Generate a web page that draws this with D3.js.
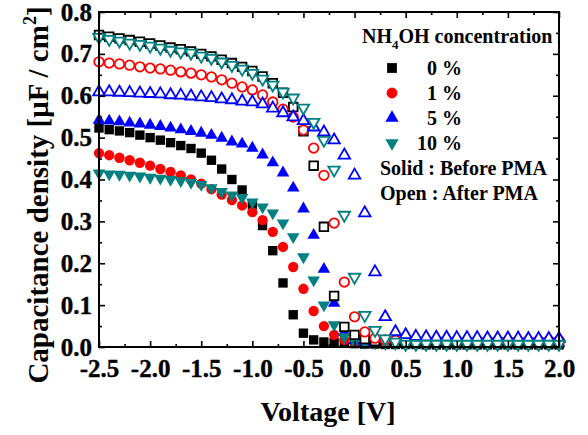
<!DOCTYPE html>
<html>
<head>
<meta charset="utf-8">
<script src="https://cdn.jsdelivr.net/npm/d3@7/dist/d3.min.js"></script>
<style>
  html, body { margin: 0; padding: 0; background: #fff; }
  svg text { font-family: "Liberation Serif", "Times New Roman", serif; font-weight: bold; }
</style>
</head>
<body>
<div id="main-vis"></div>
<script>
// voltage sweep (V), one point every 0.1 V
const voltage = [-2.5,-2.4,-2.3,-2.2,-2.1,-2.0,-1.9,-1.8,-1.7,-1.6,
  -1.5,-1.4,-1.3,-1.2,-1.1,-1.0,-0.9,-0.8,-0.7,-0.6,
  -0.5,-0.4,-0.3,-0.2,-0.1,0.0,0.1,0.2,0.3,0.4,
  0.5,0.6,0.7,0.8,0.9,1.0,1.1,1.2,1.3,1.4,
  1.5,1.6,1.7,1.8,1.9,2.0]

// solid : before PMA
const before0 = [.523,.519,.516,.512,.506,.500,.494,.488,.481,.474,
  .463,.446,.425,.400,.375,.340,.290,.230,.153,.077,
  .033,.017,.012,.010,.009,.008,.007,.007,.006,.006,
  .006,.006,.005,.005,.005,.005,.005,.005,.005,.005,
  .005,.005,.005,.005,.005,.005]
const before1 = [.463,.458,.452,.446,.440,.433,.425,.418,.410,.400,
  .390,.377,.364,.351,.338,.322,.303,.275,.239,.191,
  .139,.086,.050,.029,.017,.012,.010,.009,.009,.009,
  .008,.008,.008,.008,.008,.008,.008,.008,.008,.008,
  .008,.008,.008,.008,.008,.008]
const before5 = [.542,.540,.538,.535,.533,.530,.527,.523,.519,.515,
  .511,.506,.499,.490,.485,.475,.459,.440,.416,.380,
  .330,.267,.186,.105,.035,.015,.011,.010,.010,.009,
  .009,.009,.009,.009,.009,.009,.009,.009,.009,.009,
  .009,.009,.009,.009,.009,.009]
const before10 = [.415,.413,.412,.410,.408,.405,.403,.400,.397,.393,
  .388,.380,.371,.363,.357,.346,.334,.320,.296,.263,
  .215,.160,.100,.053,.024,.013,.010,.009,.008,.008,
  .008,.008,.008,.008,.008,.008,.008,.008,.008,.008,
  .008,.008,.008,.008,.008,.008]

// open : after PMA
const after0 = [.745,.741,.737,.733,.729,.725,.720,.715,.711,.706,
  .700,.694,.686,.678,.669,.659,.646,.630,.607,.573,
  .515,.433,.287,.122,.048,.029,.019,.014,.012,.011,
  .010,.010,.010,.010,.010,.010,.010,.010,.010,.010,
  .010,.010,.010,.010,.010,.010]
const after1 = [.681,.678,.676,.673,.669,.666,.664,.661,.657,.654,
  .650,.645,.638,.630,.621,.614,.602,.585,.568,.549,
  .518,.475,.410,.296,.155,.072,.036,.021,.017,.016,
  .015,.015,.015,.015,.015,.015,.015,.015,.015,.015,
  .015,.015,.015,.015,.015,.015]
const after5 = [.609,.609,.608,.607,.606,.605,.604,.602,.601,.599,
  .597,.595,.592,.590,.587,.585,.580,.570,.559,.549,
  .540,.525,.513,.494,.458,.410,.320,.179,.072,.036,
  .029,.025,.024,.023,.023,.022,.022,.022,.021,.021,
  .021,.021,.020,.020,.020,.020]
const after10 = [.740,.735,.731,.726,.723,.719,.714,.709,.705,.702,
  .695,.690,.681,.673,.664,.654,.640,.626,.609,.595,
  .571,.537,.494,.423,.315,.167,.076,.040,.020,.012,
  .007,.007,.007,.007,.007,.007,.007,.007,.007,.007,
  .007,.007,.007,.007,.007,.007]

const concentrations = ['0 %', '1 %', '5 %', '10 %']
const xTicks = [-2.5,-2.0,-1.5,-1.0,-0.5,0.0,0.5,1.0,1.5,2.0]
const yTicks = [0.0,0.1,0.2,0.3,0.4,0.5,0.6,0.7,0.8]

window.onload = setup

function setup () {
    const W = 588, H = 435
    const left = 99, right = 559, top = 12, bottom = 347
    const serif = '"Liberation Serif", "Times New Roman", serif'

    const colors = ['#000000', '#ff0000', '#0000ff', '#008080']
    const shapes = [d3.symbolSquare, d3.symbolCircle, d3.symbolTriangle, d3.symbolTriangle]
    const sizes = [88, 84, 68, 68]
    const rot = [0, 0, 0, 180]

    const x = d3.scaleLinear().domain([-2.5, 2.0]).range([left, right])
    const y = d3.scaleLinear().domain([0, 0.8]).range([bottom, top])

    const svg = d3.create('svg')
        .attr('width', W)
        .attr('height', H)
    svg.append('rect').attr('width', W).attr('height', H).attr('fill', '#fff')

    const series = [
        {v: before0, k: 0, open: false}, {v: before1, k: 1, open: false},
        {v: before5, k: 2, open: false}, {v: before10, k: 3, open: false},
        {v: after0, k: 0, open: true}, {v: after1, k: 1, open: true},
        {v: after5, k: 2, open: true}, {v: after10, k: 3, open: true}
    ]

    // open symbols have a white inside, so later series hide earlier ones
    series.forEach(s => {
        const sym = d3.symbol().type(shapes[s.k]).size(s.open ? sizes[s.k] * 0.85 : sizes[s.k])
        svg.append('g').selectAll('path')
            .data(voltage.map((v, i) => [v, s.v[i]]))
            .join('path')
                .attr('d', sym)
                .attr('transform', d => `translate(${x(d[0])},${y(d[1])}) rotate(${rot[s.k]})`)
                .attr('fill', s.open ? '#fff' : colors[s.k])
                .attr('stroke', s.open ? colors[s.k] : 'none')
                .attr('stroke-width', 1.8)
    })

    // axes, ticks pointing inward
    const fmt = d => d.toFixed(1)
    const minorX = d3.range(-2.25, 2.0, 0.5)
    const minorY = d3.range(0.05, 0.8, 0.1)
    const axes = [
        [d3.axisBottom(x).tickValues(xTicks).tickFormat(fmt), `translate(0,${bottom})`, true, 12],
        [d3.axisBottom(x).tickValues(minorX).tickFormat(''), `translate(0,${bottom})`, false, 0],
        [d3.axisTop(x).tickValues(xTicks).tickFormat(''), `translate(0,${top})`, true, 0],
        [d3.axisTop(x).tickValues(minorX).tickFormat(''), `translate(0,${top})`, false, 0],
        [d3.axisLeft(y).tickValues(yTicks).tickFormat(fmt), `translate(${left},0)`, true, 7],
        [d3.axisLeft(y).tickValues(minorY).tickFormat(''), `translate(${left},0)`, false, 0],
        [d3.axisRight(y).tickValues(yTicks).tickFormat(''), `translate(${right},0)`, true, 0],
        [d3.axisRight(y).tickValues(minorY).tickFormat(''), `translate(${right},0)`, false, 0]
    ]
    axes.forEach(([ax, tr, major, pad]) => {
        const g = svg.append('g').attr('transform', tr)
            .call(ax.tickSizeInner(major ? -6 : -3).tickSizeOuter(0).tickPadding(pad))
        g.attr('font-family', serif).attr('font-size', 25).attr('font-weight', 'bold')
        g.select('.domain').remove()
        g.selectAll('line').attr('stroke', '#000').attr('stroke-width', 1.6)
        g.selectAll('text')
            .attr('fill', '#000')
            .attr('stroke', '#000').attr('stroke-width', 0.4)
            .attr('font-weight', 'bold')
    })
    svg.append('rect')
        .attr('x', left).attr('y', top)
        .attr('width', right - left).attr('height', bottom - top)
        .attr('fill', 'none').attr('stroke', '#000').attr('stroke-width', 2)

    // axis titles
    svg.append('text')
        .attr('x', 328).attr('y', 421)
        .attr('text-anchor', 'middle').attr('font-size', 28)
        .text('Voltage [V]')
    const yt = svg.append('text')
        .attr('transform', `translate(48,195) rotate(-90)`)
        .attr('text-anchor', 'middle').attr('font-size', 29)
    yt.append('tspan').text('Capacitance density [\u03bcF / cm')
    yt.append('tspan').attr('dy', -12).attr('font-size', 18).text('2')
    yt.append('tspan').attr('dy', 12).text(']')

    // legend
    const lg = svg.append('g')
    const head = lg.append('text').attr('x', 362).attr('y', 43).attr('font-size', 20)
    head.append('tspan').text('NH')
    head.append('tspan').attr('dy', 6).attr('font-size', 13).text('4')
    head.append('tspan').attr('dy', -6).text('OH concentration')

    const rowY = [68, 93, 118, 143]
    concentrations.forEach((c, i) => {
        lg.append('path')
            .attr('d', d3.symbol().type(shapes[i]).size(sizes[i] + 8))
            .attr('transform', `translate(392,${rowY[i]}) rotate(${rot[i]})`)
            .attr('fill', colors[i])
        lg.append('text')
            .attr('x', 462).attr('y', rowY[i] + 7)
            .attr('text-anchor', 'end').attr('font-size', 20)
            .text(c)
    })
    lg.append('text').attr('x', 380).attr('y', 175).attr('font-size', 20).text('Solid : Before PMA')
    lg.append('text').attr('x', 380).attr('y', 200).attr('font-size', 20).text('Open : After PMA')

    d3.select('#main-vis').node().appendChild(svg.node())
}
</script>
</body>
</html>
